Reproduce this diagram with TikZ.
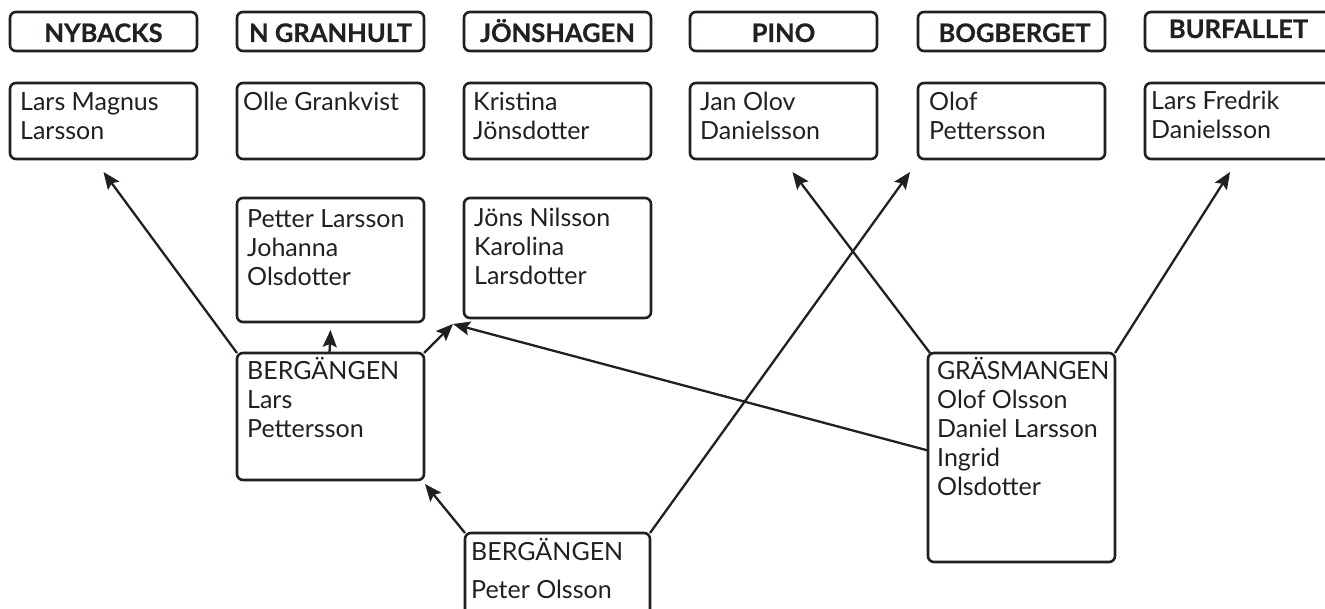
\documentclass[tikz,border=0pt]{standalone}
\usepackage{fontspec}
\setmainfont{Lato}
\usetikzlibrary{arrows.meta}
\definecolor{ink}{HTML}{231F20}
\tikzset{
  x=1pt, y=1pt,
  box/.style={draw=ink, line width=2.6pt, rounded corners=6pt, inner sep=0pt, outer sep=0pt, anchor=north west},
  hd/.style={text=ink, font=\fontsize{25.5}{29}\selectfont\bfseries\addfontfeature{FakeBold=0.6}, inner sep=0pt, anchor=base},
  lbl/.style={text=ink, font=\fontsize{25}{29}\selectfont, inner sep=0pt, anchor=base west},
  conn/.style={draw=ink, line width=2.3pt, -{Stealth[length=17pt,width=14pt,inset=3pt]}},
}
\newcommand{\bx}[5]{\node[box, minimum width=#4pt, minimum height=#5pt] (#1) at (#2,-#3) {};}
\newcommand{\lines}[1]{\parbox[t]{200pt}{\raggedright #1}}
\begin{document}
\begin{tikzpicture}
\useasboundingbox (0,0) rectangle (1325,-609);
% header boxes
\bx{h1}{10}{12}{187}{39}
\bx{h2}{237}{12}{187}{39}
\bx{h3}{464}{12}{187}{39}
\bx{h4}{690}{12}{187}{39}
\bx{h5}{918}{12}{187}{39}
\bx{h6}{1145}{12}{187}{39}
\node[hd] (th1) at ([yshift=9]h1.south) {NYBACKS};
\node[hd] (th2) at ([yshift=9]h2.south) {N GRANHULT};
\node[hd] (th3) at ([yshift=9]h3.south) {JÖNSHAGEN};
\node[hd] (th4) at ([yshift=9]h4.south) {PINO};
\node[hd] (th5) at ([shift={(3,9)}]h5.south) {BOGBERGET};
\node[hd] (th6) at ([yshift=13]h6.south) {BURFALLET};
% name boxes
\bx{n1}{10}{83}{187}{76}
\bx{n2}{237}{83}{187}{76}
\bx{n3}{464}{83}{187}{76}
\bx{n4}{690}{83}{187}{76}
\bx{n5}{918}{83}{187}{76}
\bx{n6}{1145}{83}{187}{76}
\node[lbl] (tn1) at ([shift={(10,-28)}]n1.north west) {\lines{Lars Magnus\\Larsson}};
\node[lbl] (tn2) at ([shift={(6,-28)}]n2.north west) {\lines{Olle Grankvist}};
\node[lbl] (tn3) at ([shift={(9,-28)}]n3.north west) {\lines{Kristina\\Jönsdotter}};
\node[lbl] (tn4) at ([shift={(10,-28)}]n4.north west) {\lines{Jan Olov\\Danielsson}};
\node[lbl] (tn5) at ([shift={(11,-28)}]n5.north west) {\lines{Olof\\Pettersson}};
\node[lbl] (tn6) at ([shift={(6,-27)}]n6.north west) {\lines{Lars Fredrik\\Danielsson}};
% second row
\bx{p1}{237}{198}{187}{124}
\bx{p2}{464}{198}{187}{120}
\node[lbl] (tp1) at ([shift={(10,-30)}]p1.north west) {\lines{Petter Larsson\\Johanna\\Olsdotter}};
\node[lbl] (tp2) at ([shift={(10,-29)}]p2.north west) {\lines{Jöns Nilsson\\Karolina\\Larsdotter}};
% lower boxes
\bx{lars}{237}{353}{187}{127}
\bx{gras}{928}{353}{187}{209}
\bx{peter}{465}{533}{185}{120}
\node[lbl] (tl) at ([shift={(10,-27)}]lars.north west) {\lines{BERGÄNGEN\\Lars\\Pettersson}};
\node[lbl] (tg) at ([shift={(9,-27)}]gras.north west) {\lines{\addfontfeature{LetterSpace=-1.5}GRÄSMANGEN\\\addfontfeature{LetterSpace=0}Olof Olsson\\Daniel Larsson\\Ingrid\\Olsdotter}};
\node[lbl] (tpe) at ([shift={(6,-27)}]peter.north west) {\lines{\baselineskip=38pt BERGÄNGEN\\Peter Olsson}};
% connectors
\draw[conn] (lars.north west) -- ([yshift=-13]n1.south);
\draw[conn] ([xshift=-1]lars.north) -- ([yshift=-8]p1.south);
\draw[conn] (lars.north east) -- ([shift={(-11,-6)}]p2.south west);
\draw[conn] ([yshift=7]gras.west) -- ([shift={(-11,-6)}]p2.south west);
\draw[conn] ([xshift=2]gras.north west) -- ([shift={(9,-13)}]n4.south);
\draw[conn] (gras.north east) -- ([shift={(85,-13)}]n6.south west);
\draw[conn] (peter.north west) -- ([shift={(1,-4)}]lars.south east);
\draw[conn] (peter.north east) -- ([shift={(-8,-13)}]n5.south west);
\end{tikzpicture}
\end{document}
